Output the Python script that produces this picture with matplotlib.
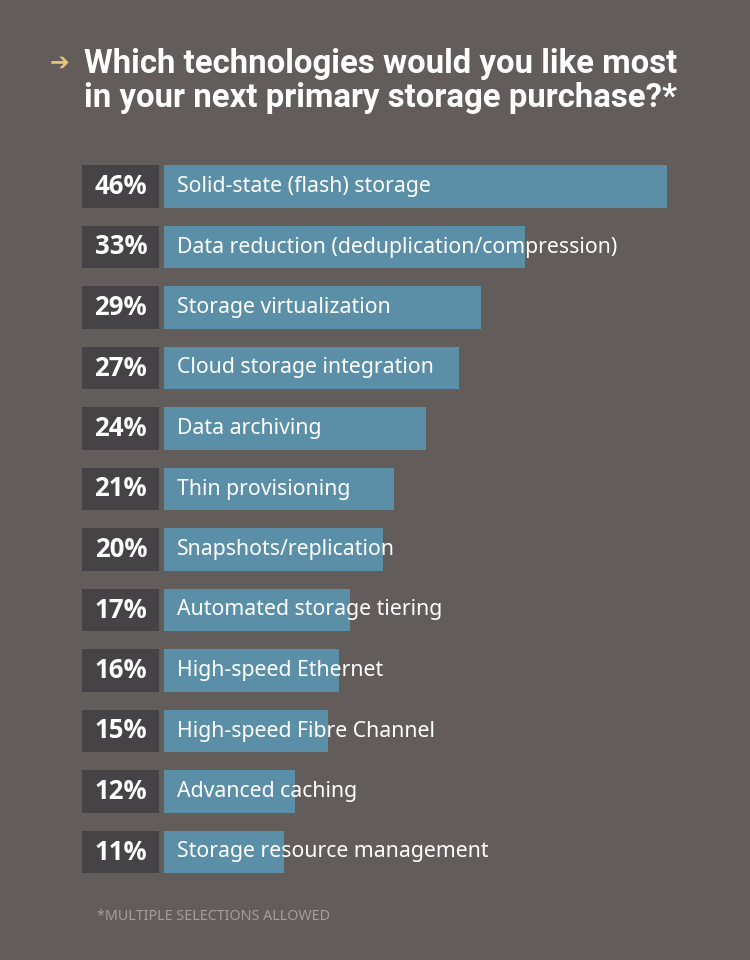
import matplotlib.pyplot as plt

labels = ["Solid-state (flash) storage",
          "Data reduction (deduplication/compression)",
          "Storage virtualization",
          "Cloud storage integration",
          "Data archiving",
          "Thin provisioning",
          "Snapshots/replication",
          "Automated storage tiering",
          "High-speed Ethernet",
          "High-speed Fibre Channel",
          "Advanced caching",
          "Storage resource management"]
values = [46, 33, 29, 27, 24, 21, 20, 17, 16, 15, 12, 11]

bg = "#625c5b"
W, H = 750, 960
fig = plt.figure(figsize=(7.5, 9.6), dpi=100, facecolor=bg)

# axes: x=0% at 164px, 10.93px per %, rows 60.5px apart starting at 186.5px
px = 10.93
x0 = 164
ax_w = 50 * px
top = 186.5 - 30.25
ax_h = 12 * 60.5
ax = fig.add_axes([x0 / W, 1 - (top + ax_h) / H, ax_w / W, ax_h / H])
ax.set_facecolor(bg)
ax.set_xlim(0, 50)
ax.set_ylim(11.5, -0.5)
ax.axis("off")

ys = list(range(len(values)))
ax.barh(ys, values, height=0.71, color="#5b8fa8", left=0)
ax.barh(ys, [7.05] * len(values), left=-7.5, height=0.71, color="#454346", clip_on=False)

for y, v, lab in zip(ys, values, labels):
    ax.text(1.2, y, lab, color="white", fontsize=15.3, family="Noto Sans",
            va="center", ha="left", clip_on=False)
    ax.text(-3.95, y, f"{v}%", color="white", fontsize=18.5, family="Open Sans",
            fontweight="bold", va="center", ha="center", clip_on=False)

fig.text(50 / W, 1 - 63 / H, "\u2794", color="#e3c27a", fontsize=17,
         family="DejaVu Sans", va="center", ha="left")
fig.text(84 / W, 1 - 48 / H, "Which technologies would you like most\nin your next primary storage purchase?*",
         color="white", fontsize=23.7, family="Roboto", fontweight="bold",
         va="top", ha="left", linespacing=1.1)
fig.text(97 / W, 1 - 917 / H, "*MULTIPLE SELECTIONS ALLOWED", color="#a39d9b",
         fontsize=10.3, family="Noto Sans", va="center", ha="left")

fig.savefig("out.png", dpi=100, facecolor=bg)
